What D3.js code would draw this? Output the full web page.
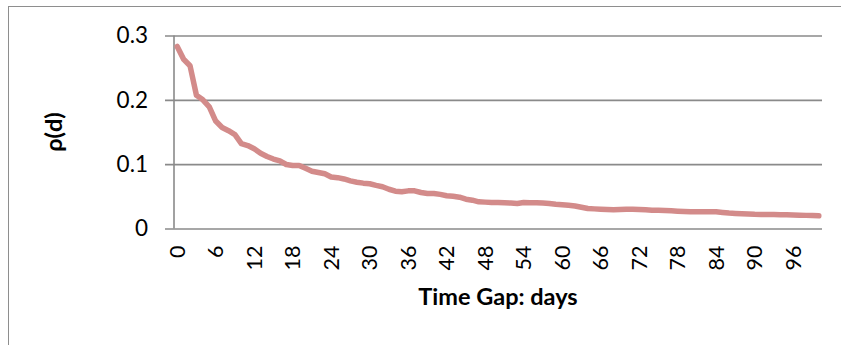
<!DOCTYPE html>
<html>
<head>
<meta charset="utf-8">
<script src="https://cdn.jsdelivr.net/npm/d3@7"></script>
<style>
  html, body { margin: 0; padding: 0; background: #fff; }
  svg { display: block; }
  text { font-family: Lato, "Open Sans", sans-serif; fill: #000; }
</style>
</head>
<body>
<svg id="chart" width="841" height="345"></svg>
<script>
// ---- data ----
const categories = d3.range(0, 101); // time gap in days, 0..100
const rhoValues = [
  0.283, 0.263, 0.253, 0.207, 0.200, 0.189, 0.167, 0.157, 0.152, 0.146,
  0.132, 0.129, 0.124, 0.117, 0.112, 0.108, 0.105, 0.0995, 0.098, 0.098,
  0.0935, 0.089, 0.087, 0.085, 0.080, 0.079, 0.077, 0.074, 0.072, 0.0705,
  0.0695, 0.067, 0.065, 0.061, 0.058, 0.057, 0.0585, 0.0585, 0.056, 0.0545,
  0.0545, 0.053, 0.051, 0.050, 0.0487, 0.0456, 0.044, 0.0414, 0.041, 0.0404,
  0.0404, 0.040, 0.0395, 0.039, 0.0405, 0.0402, 0.040, 0.0395, 0.039, 0.0378,
  0.037, 0.036, 0.035, 0.033, 0.031, 0.0305, 0.030, 0.0295, 0.029, 0.0295,
  0.030, 0.0298, 0.0296, 0.029, 0.0285, 0.0283, 0.028, 0.0276, 0.027, 0.0265,
  0.026, 0.026, 0.026, 0.026, 0.0259, 0.025, 0.024, 0.0235, 0.023, 0.0225,
  0.022, 0.0218, 0.0218, 0.0217, 0.0214, 0.0212, 0.021, 0.0207, 0.0204, 0.0202,
  0.0197
];
const yTicks = [0, 0.1, 0.2, 0.3];
const xTickLabels = d3.range(0, 101, 6); // 0, 6, ..., 96
const xTitle = "Time Gap: days";
const yTitle = "ρ(d)";

// ---- layout ----
const svg = d3.select("#chart");
const plot = { left: 174, right: 822, top: 35.5, bottom: 228.5 };

// outer chart border (extends beyond the visible window on right/bottom)
svg.append("rect")
  .attr("x", 8.5).attr("y", 6.5)
  .attr("width", 900).attr("height", 400)
  .attr("fill", "none").attr("stroke", "#8e8e8e").attr("stroke-width", 1);

const x = d3.scaleBand().domain(categories).range([plot.left, plot.right]).padding(0);
const y = d3.scaleLinear().domain([0, 0.3]).range([plot.bottom, plot.top]);

// gridlines + y axis ticks
const yAxis = d3.axisLeft(y)
  .tickValues(yTicks)
  .tickSize(-(plot.right - plot.left))
  .tickSizeOuter(0)
  .tickPadding(26)
  .tickFormat(d => d === 0 ? "0" : d3.format(".1f")(d));

const gy = svg.append("g")
  .attr("transform", `translate(${plot.left},0)`)
  .call(yAxis);
gy.select(".domain").remove();
gy.selectAll(".tick line")
  .attr("x1", -9)
  .attr("stroke", "#8a8a8a").attr("stroke-width", 1.6);
gy.selectAll(".tick text")
  .style("font-size", "22.5px")
  .style("font-family", "Lato, sans-serif")
  .attr("fill", "#000");

// vertical axis line
svg.append("line")
  .attr("x1", plot.left).attr("x2", plot.left)
  .attr("y1", plot.top).attr("y2", plot.bottom)
  .attr("stroke", "#8a8a8a").attr("stroke-width", 1.6);

// x axis tick labels (rotated)
const xAxis = d3.axisBottom(x)
  .tickValues(xTickLabels)
  .tickSize(0)
  .tickPadding(0);
const gx = svg.append("g")
  .attr("transform", `translate(0,${plot.bottom})`)
  .call(xAxis);
gx.select(".domain").remove();
gx.selectAll(".tick text")
  .attr("transform", "rotate(-90)")
  .attr("x", -17)
  .attr("y", 0)
  .attr("dy", "0.35em")
  .attr("text-anchor", "end")
  .style("font-size", "21.5px")
  .style("font-family", "Lato, sans-serif")
  .attr("fill", "#000");

// data line
const line = d3.line()
  .x((d, i) => x(categories[i]) + x.bandwidth() / 2)
  .y(d => y(d));
svg.append("path")
  .datum(rhoValues)
  .attr("d", line)
  .attr("fill", "none")
  .attr("stroke", "#d38b8a")
  .attr("stroke-width", 5.5)
  .attr("stroke-linejoin", "round")
  .attr("stroke-linecap", "round");

// axis titles
svg.append("text")
  .attr("x", (plot.left + plot.right) / 2)
  .attr("y", 305)
  .attr("text-anchor", "middle")
  .style("font-size", "23.5px")
  .style("font-weight", "bold")
  .text(xTitle);

svg.append("text")
  .attr("transform", `translate(62,${(plot.top + plot.bottom) / 2}) rotate(-90)`)
  .attr("text-anchor", "middle")
  .style("font-size", "23.5px")
  .style("font-weight", "bold")
  .text(yTitle);
</script>
</body>
</html>
